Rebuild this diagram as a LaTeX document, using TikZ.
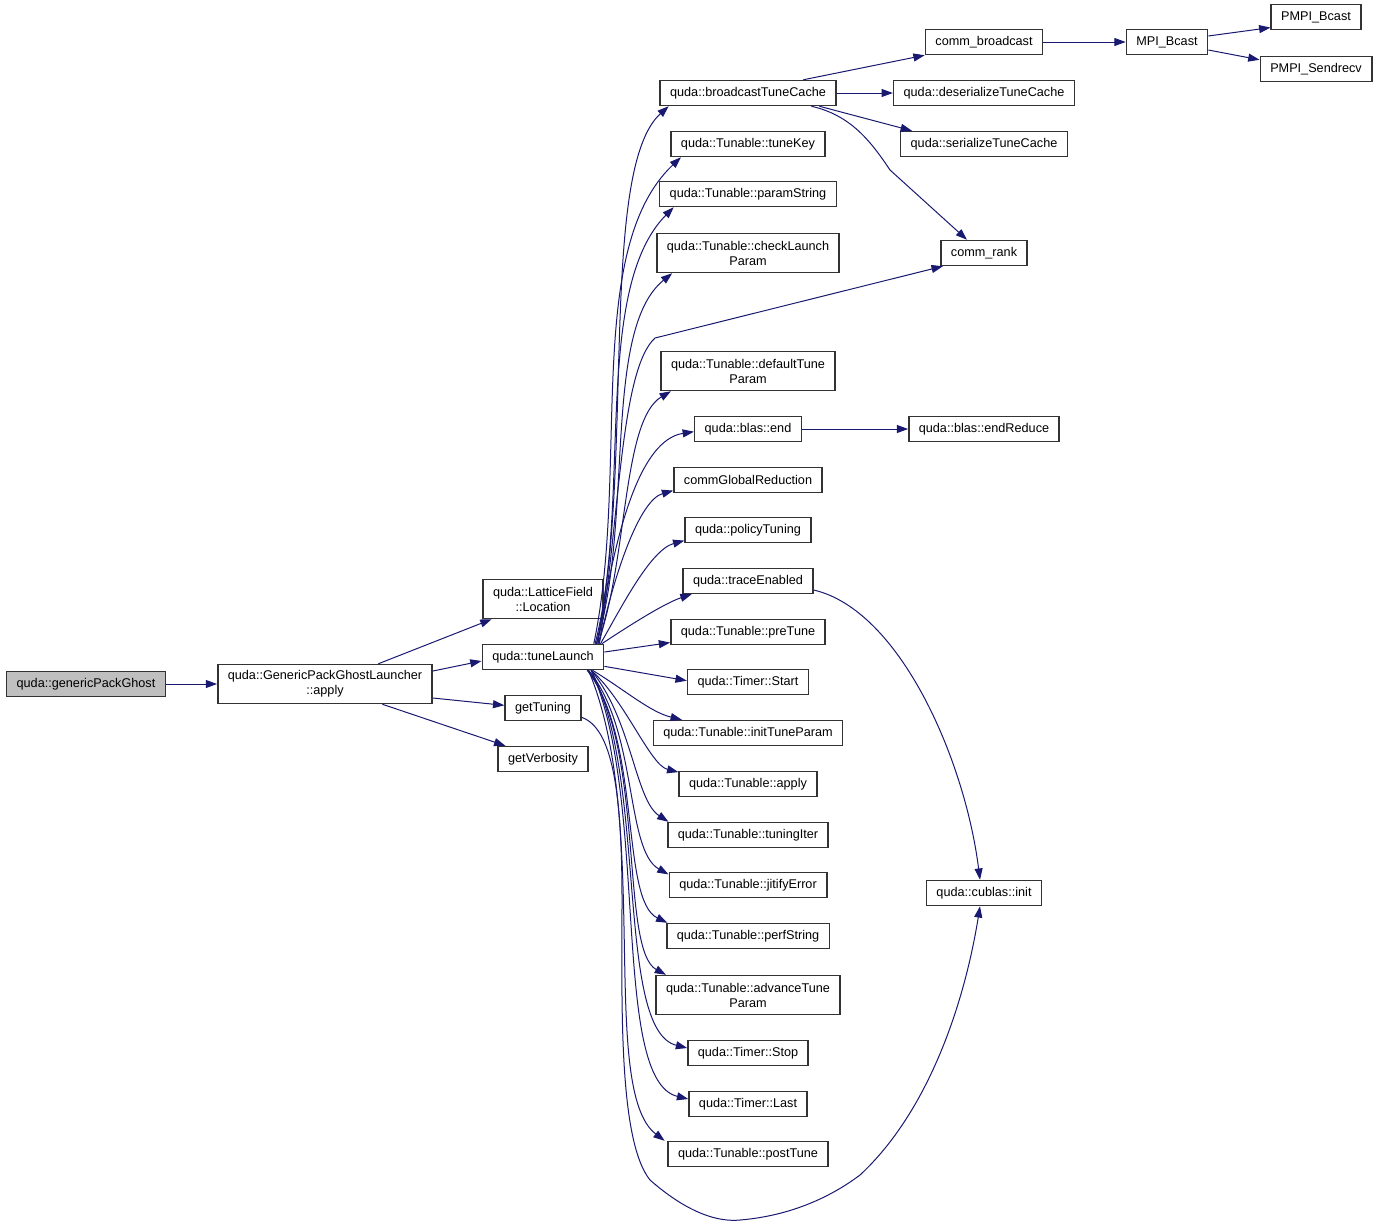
\documentclass[tikz,border=0pt]{standalone}
\usepackage{fontspec}
\setmainfont{Liberation Sans}
\usetikzlibrary{arrows.meta,positioning}
\definecolor{edgeblue}{HTML}{191970}
\definecolor{curgray}{HTML}{BFBFBF}

\tikzset{
  fn/.style={draw=black!80, fill=white, line width=1.1pt, font=\fontsize{9.5}{11.25}\selectfont,
    inner xsep=7.5pt, inner ysep=2pt, minimum height=18.75pt, align=center},
  fntall/.style={fn, minimum height=29.25pt},
  call/.style={draw=edgeblue, line width=0.75pt, -{Triangle[length=8.5pt,width=6pt]}}
}

\begin{document}
\begin{tikzpicture}[x=0.75pt,y=-0.75pt]
    \useasboundingbox (0,0) rectangle (1380,1225);

    % left part
    \node[fn, fill=curgray] (gpg) at (86,684) {quda::genericPackGhost};
    \node[fntall] (lau) at (325,684) {quda::GenericPackGhostLauncher\\::apply};
    \node[fntall] (loc) at (543,599) {quda::LatticeField\\::Location};
    \node[fn] (tl) at (543,657) {quda::tuneLaunch};
    \node[fn] (gt) at (543,708) {getTuning};
    \node[fn] (gv) at (543,759) {getVerbosity};

    % column called by tuneLaunch
    \node[fn] (bc) at (748,93) {quda::broadcastTuneCache};
    \node[fn] (tk) at (748,144) {quda::Tunable::tuneKey};
    \node[fn] (ps) at (748,194) {quda::Tunable::paramString};
    \node[fntall] (clp) at (748,253) {quda::Tunable::checkLaunch\\Param};
    \node[fntall] (dtp) at (748,371) {quda::Tunable::defaultTune\\Param};
    \node[fn] (be) at (748,429) {quda::blas::end};
    \node[fn] (cgr) at (748,480) {commGlobalReduction};
    \node[fn] (pt) at (748,530) {quda::policyTuning};
    \node[fn] (te) at (748,581) {quda::traceEnabled};
    \node[fn] (pre) at (748,632) {quda::Tunable::preTune};
    \node[fn] (tst) at (748,682) {quda::Timer::Start};
    \node[fn] (itp) at (748,733) {quda::Tunable::initTuneParam};
    \node[fn] (ta) at (748,784) {quda::Tunable::apply};
    \node[fn] (ti) at (748,835) {quda::Tunable::tuningIter};
    \node[fn] (je) at (748,885) {quda::Tunable::jitifyError};
    \node[fn] (pst) at (748,936) {quda::Tunable::perfString};
    \node[fntall] (atp) at (748,995) {quda::Tunable::advanceTune\\Param};
    \node[fn] (tsp) at (748,1053) {quda::Timer::Stop};
    \node[fn] (tla) at (748,1104) {quda::Timer::Last};
    \node[fn] (pot) at (748,1154) {quda::Tunable::postTune};

    % right part
    \node[fn] (cb) at (984,42) {comm\_broadcast};
    \node[fn] (dtc) at (984,93) {quda::deserializeTuneCache};
    \node[fn] (stc) at (984,144) {quda::serializeTuneCache};
    \node[fn] (cr) at (984,253) {comm\_rank};
    \node[fn] (ber) at (984,429) {quda::blas::endReduce};
    \node[fn] (ci) at (984,893) {quda::cublas::init};
    \node[fn] (mb) at (1167,42) {MPI\_Bcast};
    \node[fn] (pb) at (1316,17) {PMPI\_Bcast};
    \node[fn] (psr) at (1316,69) {PMPI\_Sendrecv};

    % calls from the left
    \draw[call] (gpg.east) -- (lau.west);
    \draw[call] ([xshift=40pt]lau.north) -- ([xshift=7pt]loc.south west);
    \draw[call] ([yshift=9.75pt]lau.east) -- ([yshift=-3pt]tl.west);
    \draw[call] ([yshift=-10.5pt]lau.east) -- ([yshift=2pt]gt.west);
    \draw[call] ([xshift=43pt]lau.south) -- ([xshift=6pt]gv.north west);

    % tuneLaunch, upwards
    \draw[call] ([xshift=-6pt]tl.north east) .. controls (635,470) and (598,170) .. ([xshift=7pt]bc.south west);
    \draw[call] ([xshift=-8pt]tl.north east) .. controls (630,470) and (583,250) .. ([xshift=8pt]tk.south west);
    \draw[call] ([xshift=-7pt]tl.north east) .. controls (632,500) and (592,290) .. ([xshift=11pt]ps.south west);
    \draw[call] ([xshift=-6pt]tl.north east) .. controls (634,520) and (602,330) .. ([xshift=12pt]clp.south west);
    \draw[call] ([xshift=-4pt]tl.north east) .. controls (620,520) and (620,370) .. (655,338) -- ([xshift=2pt]cr.south west);
    \draw[call] ([xshift=-5pt]tl.north east) .. controls (628,560) and (622,420) .. ([xshift=8pt]dtp.south west);
    \draw[call] ([xshift=-5pt]tl.north east) .. controls (615,530) and (640,440) .. ([yshift=-2pt]be.west);
    \draw[call] ([xshift=-4pt]tl.north east) .. controls (615,570) and (640,500) .. ([yshift=2pt]cgr.south west);
    \draw[call] ([xshift=-3pt]tl.north east) .. controls (620,610) and (650,550) .. ([yshift=2pt]pt.south west);
    \draw[call] ([xshift=-2pt]tl.north east) .. controls (630,625) and (665,603) .. ([xshift=7pt]te.south west);
    \draw[call] ([yshift=3.75pt]tl.east) -- ([yshift=2pt]pre.south west);
    \draw[call] ([yshift=-7pt]tl.east) -- ([yshift=1pt]tst.west);

    % tuneLaunch, downwards
    \draw[call] ([xshift=-9pt]tl.south east) .. controls (625,690) and (650,712) .. ([xshift=22pt]itp.north west);
    \draw[call] ([xshift=-10pt]tl.south east) .. controls (625,700) and (650,765) .. ([yshift=-1pt]ta.north west);
    \draw[call] ([xshift=-10pt]tl.south east) .. controls (632,720) and (635,800) .. ([xshift=1pt]ti.north west);
    \draw[call] ([xshift=-12pt]tl.south east) .. controls (638,730) and (625,850) .. ([yshift=-2pt]je.north west);
    \draw[call] ([xshift=-13pt]tl.south east) .. controls (642,740) and (620,900) .. ([xshift=1pt]pst.north west);
    \draw[call] ([xshift=-12pt]tl.south east) .. controls (645,750) and (620,950) .. ([xshift=8pt]atp.north west);
    \draw[call] ([xshift=-10pt]tl.south east) .. controls (648,780) and (615,1030) .. ([yshift=3.75pt]tsp.west);
    \draw[call] ([xshift=-10pt]tl.south east) .. controls (650,800) and (610,1080) .. ([yshift=3.75pt]tla.west);
    \draw[call] ([xshift=-12pt]tl.south east) .. controls (652,820) and (598,1090) .. ([xshift=-2pt]pot.north west);

    % getTuning loop
    \draw[call] ([yshift=-7pt]gt.east) .. controls (612,728) and (622,790) .. (622,900)
      .. controls (622,1000) and (618,1140) .. (650,1180)
      .. controls (690,1215) and (720,1222) .. (740,1220)
      .. controls (800,1215) and (840,1190) .. (860,1175)
      .. controls (930,1110) and (965,1000) .. ([xshift=-3pt]ci.south);
    \draw[call] ([yshift=-6.75pt]te.east) .. controls (900,610) and (965,760) .. ([xshift=-3pt]ci.north);

    % broadcastTuneCache and further
    \draw[call] ([xshift=-25pt]bc.north east) -- (cb.south west);
    \draw[call] (bc.east) -- (dtc.west);
    \draw[call] ([xshift=-13pt]bc.south east) -- ([xshift=9pt]stc.north west);
    \draw[call] ([xshift=-19pt]bc.south east) .. controls (850,115) and (870,140) .. (890,170) -- ([xshift=-12.75pt]cr.north);
    \draw[call] (cb.east) -- (mb.west);
    \draw[call] ([yshift=4.5pt]mb.east) -- ([yshift=2pt]pb.south west);
    \draw[call] ([yshift=-6pt]mb.east) -- ([yshift=-3pt]psr.north west);
    \draw[call] (be.east) -- (ber.west);
\end{tikzpicture}
\end{document}
